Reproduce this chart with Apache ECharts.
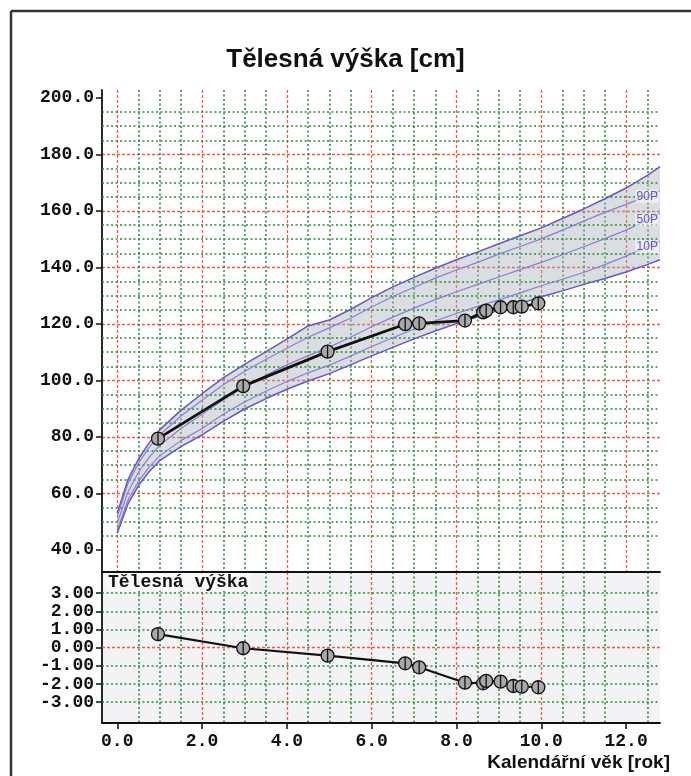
<!DOCTYPE html>
<html>
<head>
<meta charset="utf-8">
<script src="https://cdn.jsdelivr.net/npm/echarts@6/dist/echarts.min.js"></script>
<style>html,body{margin:0;padding:0;background:#fff}#c{width:691px;height:776px}</style>
</head>
<body>
<div id="c"></div>
<script>
// ---- data ----
const ages = [0, 0.25, 0.5, 0.75, 1, 1.5, 2, 2.5, 3, 3.5, 4, 4.5, 5, 5.5, 6, 6.5, 7, 7.5, 8, 8.5, 9, 9.5, 10, 10.5, 11, 11.5, 12, 12.5, 12.8];
const p3  = [45.9, 56.2, 62.8, 67.7, 71.6, 76.6, 80.7, 85.5, 89.9, 93.5, 96.9, 99.8, 102.4, 105.5, 108.7, 111.7, 114.7, 117.5, 120.1, 122.5, 124.8, 127.2, 129.6, 131.7, 134.0, 136.1, 138.4, 141.0, 142.7];
const p10 = [47.1, 57.6, 64.3, 69.3, 73.3, 78.7, 83.0, 88.0, 92.4, 96.2, 99.6, 102.7, 105.4, 108.6, 112.0, 115.1, 118.2, 121.1, 123.7, 126.2, 128.5, 131.0, 133.5, 135.8, 138.2, 141.0, 144.0, 147.3, 149.3];
const p50 = [49.5, 60.5, 67.5, 72.8, 77.0, 83.0, 88.0, 93.2, 97.8, 101.8, 105.5, 108.8, 111.8, 115.3, 119.0, 122.4, 125.6, 128.6, 131.4, 134.0, 136.6, 139.2, 141.8, 144.5, 147.3, 150.2, 153.2, 156.8, 159.2];
const p90 = [51.9, 63.4, 70.7, 76.3, 80.7, 87.4, 93.0, 98.5, 103.2, 107.4, 111.4, 115.3, 118.6, 122.0, 126.0, 129.7, 133.0, 136.2, 139.1, 141.8, 144.7, 147.4, 150.1, 153.2, 156.4, 159.5, 162.3, 165.2, 167.2];
const p97 = [53.1, 64.8, 72.2, 77.9, 82.5, 89.4, 95.3, 100.9, 105.7, 110.1, 114.6, 119.3, 121.4, 125.1, 129.3, 133.1, 136.5, 139.7, 142.7, 145.5, 148.4, 151.2, 154.0, 157.3, 160.7, 164.3, 168.1, 172.6, 175.7];

const visitAges = [0.96, 2.97, 4.96, 6.79, 7.12, 8.20, 8.63, 8.70, 9.04, 9.34, 9.54, 9.93];
const heights   = [79.4, 98.0, 110.2, 119.9, 120.2, 121.2, 124.1, 124.7, 125.9, 125.9, 126.1, 127.3];
const zScores   = [0.75, -0.03, -0.44, -0.86, -1.08, -1.93, -1.96, -1.83, -1.87, -2.11, -2.15, -2.18];

const xTicks = [0, 2, 4, 6, 8, 10, 12];
const heightTicks = [40, 60, 80, 100, 120, 140, 160, 180, 200];
const heightMinorLines = [45, 50, 55, 65, 70, 75, 85, 90, 95, 105, 110, 115, 125, 130, 135, 145, 150, 155, 165, 170, 175, 185, 190, 195];
const zTicks = [-3, -2, -1, 0, 1, 2, 3];
const labelAge = 12.5;

// ---- styles ----
const RED = '#ef5a48', GREEN = '#2d8a3c', PURPLE = '#6657c2', PURPLE_L = '#8a7ed3';
const redLine = {color: RED, type: [3, 2], width: 1.3};
const greenLine = {color: GREEN, type: [2, 2.5], width: 1.6};
const mono = "'Liberation Mono', 'DejaVu Sans Mono', monospace";
const sans = "'Liberation Sans', Arial, sans-serif";
const marker = 'path://M-6,0A6,6,0,1,1,6,0A6,6,0,1,1,-6,0ZM0,-6L0,6';

const pts = (xs, ys) => xs.map((x, i) => [x, ys[i]]);
const li = ages.indexOf(labelAge);
const near = (arr, v) => arr.some(t => Math.abs(t - v) < 1e-6);

const axisLineStyle = {show: true, onZero: false, lineStyle: {color: '#111', width: 1.8}};
const labelFont = {fontFamily: mono, fontWeight: 'bold', fontSize: 18, color: '#111'};

function xAxisBase(grid) {
  return {
    gridIndex: grid, type: 'value', min: -0.36, max: 12.8, minInterval: 2, maxInterval: 2,
    axisLine: axisLineStyle,
    splitLine: {show: true, showMinLine: false, showMaxLine: false, lineStyle: redLine},
    minorTick: {show: false, splitNumber: 4},
    minorSplitLine: {show: true, lineStyle: greenLine}
  };
}

function pctLabel(name, arr) {
  return {
    silent: true, symbol: 'rect', symbolSize: [24, 13],
    itemStyle: {color: 'rgba(255,255,255,0.5)'},
    label: {show: true, position: 'inside', formatter: '{b}', color: PURPLE, fontSize: 12, fontFamily: sans},
    data: [{name: name, coord: [labelAge, arr[li]]}]
  };
}

function pctSeries(arr, color, width, lbl) {
  const s = {
    type: 'line', xAxisIndex: 0, yAxisIndex: 0, data: pts(ages, arr),
    symbol: 'none', silent: true, z: 3, lineStyle: {color: color, width: width}
  };
  if (lbl) s.markPoint = pctLabel(lbl, arr);
  return s;
}

const chart = echarts.init(document.getElementById('c'));
const option = {
  animation: false,
  backgroundColor: '#fff',
  title: {
    text: 'Tělesná výška [cm]', left: 'center', top: 42,
    textStyle: {fontFamily: sans, fontWeight: 'bold', fontSize: 26, color: '#111'}
  },
  grid: [
    {left: 102, top: 90, width: 558, height: 482},
    {left: 102, top: 572, width: 558, height: 151, show: true, backgroundColor: '#f3f3f5', borderWidth: 0}
  ],
  xAxis: [
    Object.assign(xAxisBase(0), {axisTick: {show: false}, axisLabel: {show: false}}),
    Object.assign(xAxisBase(1), {
      axisTick: {show: true, length: 6, customValues: xTicks, lineStyle: {color: '#111', width: 1.5}},
      axisLabel: Object.assign({margin: 9, formatter: v => near(xTicks, v) ? v.toFixed(1) : ''}, labelFont),
      name: 'Kalendářní věk [rok]', nameLocation: 'end', nameGap: 10,
      nameTextStyle: {fontFamily: sans, fontWeight: 'bold', fontSize: 19, color: '#111', align: 'right', verticalAlign: 'top', padding: [30, 0, 0, 0]}
    })
  ],
  yAxis: [
    {
      gridIndex: 0, type: 'value', min: 32.2, max: 202.8, minInterval: 20, maxInterval: 20,
      axisLine: axisLineStyle,
      axisTick: {show: true, length: 6, customValues: heightTicks, lineStyle: {color: '#111', width: 1.5}},
      axisLabel: Object.assign({margin: 8, formatter: v => near(heightTicks, v) ? v.toFixed(1) : ''}, labelFont),
      splitLine: {show: true, showMinLine: false, showMaxLine: false, lineStyle: redLine}
    },
    {
      gridIndex: 1, type: 'value', min: -4.15, max: 4.17, minInterval: 1, maxInterval: 1,
      axisLine: axisLineStyle,
      axisTick: {show: true, length: 6, customValues: zTicks, lineStyle: {color: '#111', width: 1.5}},
      axisLabel: Object.assign({margin: 8, formatter: v => near(zTicks, v) ? v.toFixed(2) : ''}, labelFont),
      splitLine: {show: false}
    }
  ],
  series: [
    {
      type: 'custom', xAxisIndex: 0, yAxisIndex: 0, silent: true, z: 1, clip: true,
      data: ages.map((a, i) => [a, p3[i], p97[i]]),
      renderItem: function (params, api) {
        if (params.dataIndex !== 0) return null;
        const top = ages.map((a, i) => api.coord([a, p97[i]]));
        const bot = ages.map((a, i) => api.coord([a, p3[i]])).reverse();
        return {type: 'polygon', shape: {points: top.concat(bot)}, style: {fill: 'rgba(168,174,184,0.42)'}};
      },
      markLine: {
        silent: true, symbol: ['none', 'none'], z: 2, animation: false,
        label: {show: false}, lineStyle: greenLine,
        data: heightMinorLines.map(v => ({yAxis: v}))
      }
    },
    pctSeries(p3, PURPLE, 1.5),
    pctSeries(p10, PURPLE_L, 1.2, '10P'),
    pctSeries(p50, PURPLE_L, 1.2, '50P'),
    pctSeries(p90, PURPLE_L, 1.2, '90P'),
    pctSeries(p97, PURPLE, 1.5),
    {
      type: 'line', xAxisIndex: 0, yAxisIndex: 0, data: pts(visitAges, heights), z: 6,
      lineStyle: {color: '#111', width: 2.8},
      symbol: marker, symbolSize: 13, symbolKeepAspect: true,
      itemStyle: {color: '#a8a8a8', borderColor: '#111', borderWidth: 1.3}
    },
    {
      type: 'line', xAxisIndex: 1, yAxisIndex: 1, data: pts(visitAges, zScores), z: 6,
      lineStyle: {color: '#111', width: 2.2},
      symbol: marker, symbolSize: 13, symbolKeepAspect: true,
      itemStyle: {color: '#a8a8a8', borderColor: '#111', borderWidth: 1.3},
      markLine: {
        silent: true, symbol: ['none', 'none'], z: 1, animation: false,
        label: {show: false},
        data: zTicks.map(v => ({yAxis: v, lineStyle: v === 0 ? redLine : greenLine}))
      }
    }
  ],
  graphic: [
    {type: 'line', shape: {x1: 11, y1: 11, x2: 691, y2: 11}, style: {stroke: '#333', lineWidth: 2.5}, z: 10},
    {type: 'line', shape: {x1: 11, y1: 11, x2: 11, y2: 776}, style: {stroke: '#333', lineWidth: 2.5}, z: 10},
    {type: 'text', left: 106, top: 573, z: 10,
     style: {text: 'Tělesná výška', fontFamily: mono, fontWeight: 'bold', fontSize: 18, fill: '#111',
             backgroundColor: 'rgba(250,250,250,0.9)', padding: [0, 2]}}
  ]
};
chart.setOption(option);
</script>
</body>
</html>
